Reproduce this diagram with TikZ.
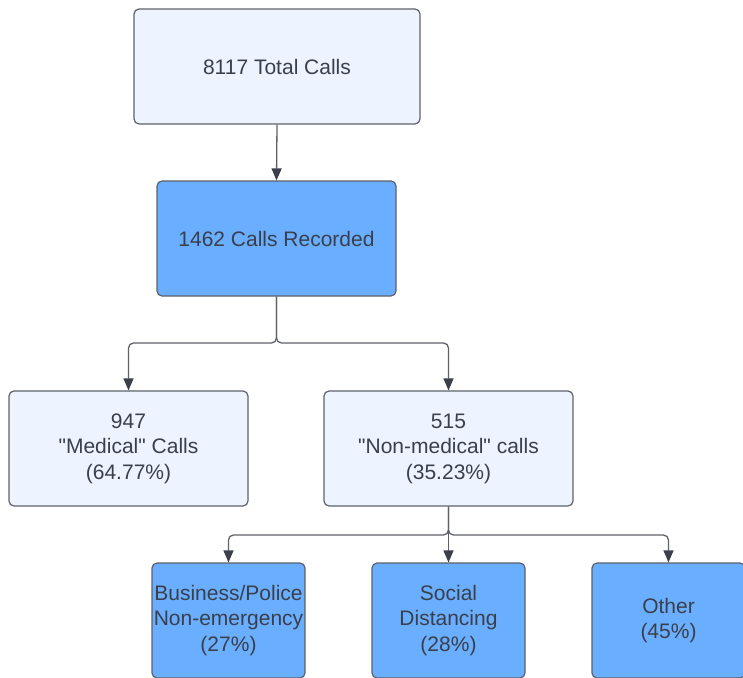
\documentclass[tikz,border=0pt]{standalone}
\usepackage{fontspec}
\setmainfont{Liberation Sans}
\usetikzlibrary{arrows.meta}
\definecolor{lightbox}{HTML}{EDF4FF}
\definecolor{bluebox}{HTML}{6AAEFF}
\definecolor{edgec}{HTML}{5E6169}
\definecolor{tipc}{HTML}{3A3F4A}
\definecolor{txt}{HTML}{3A3F4A}
\tikzset{
  box/.style={draw=edgec, line width=1.2pt, rounded corners=5pt, align=center,
    inner sep=0pt, text=txt, font=\fontsize{21}{25.5}\selectfont, minimum height=115pt},
  lightb/.style={box, fill=lightbox},
  blueb/.style={box, fill=bluebox},
  conn/.style={draw=edgec, line width=1.3pt, rounded corners=5pt,
    -{Triangle[length=12pt,width=10pt,color=tipc]}}
}
\begin{document}
\begin{tikzpicture}[x=1pt,y=-1pt]
\useasboundingbox (0,0) rectangle (743,677);
\clip (0,0) rectangle (743,677);
\node[lightb, minimum width=286pt] (top) at (277,66.5) {8117 Total Calls};
\node[blueb, minimum width=239pt] (rec) at (276.5,238.5) {1462 Calls Recorded};
\node[lightb, minimum width=239pt] (med) at (128.5,448.5) {947\\\textquotedbl Medical\textquotedbl{} Calls\\(64.77\%)};
\node[lightb, minimum width=249pt] (non) at (448.5,448.5) {515\\\textquotedbl Non-medical\textquotedbl{} calls\\(35.23\%)};
\node[blueb, minimum width=153pt] (bus) at (228.5,620.5) {Business/Police\\Non-emergency\\(27\%)};
\node[blueb, minimum width=153pt] (soc) at (448.5,620.5) {Social\\Distancing\\(28\%)};
\node[blueb, minimum width=153pt] (oth) at (668.5,620.5) {Other\\(45\%)};
\coordinate (j1) at (276.5,343);
\coordinate (j2) at (448.5,535);
\draw[conn] (top.south) -- (rec.north);
\draw[conn] (rec.south) -- (j1) -| (med.north);
\draw[conn] (rec.south) -- (j1) -| (non.north);
\draw[conn] (non.south) -- (j2) -| (bus.north);
\draw[conn] (non.south) -- (soc.north);
\draw[conn] (non.south) -- (j2) -| (oth.north);
\end{tikzpicture}
\end{document}
